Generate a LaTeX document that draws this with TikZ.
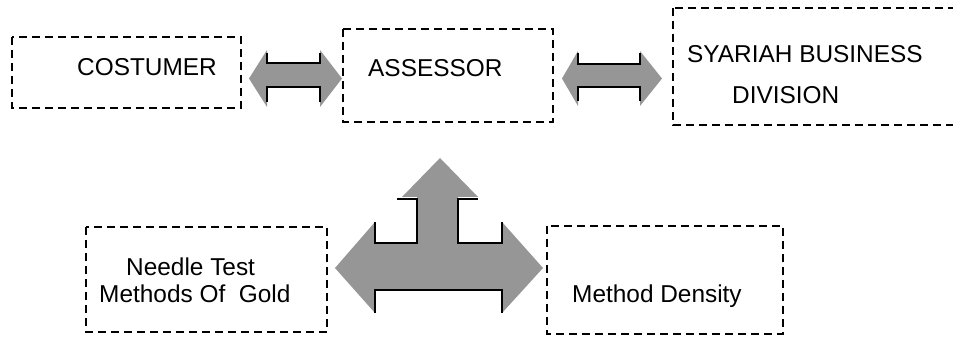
\documentclass[tikz,border=0pt]{standalone}
\usepackage{fontspec}
\setmainfont{Liberation Sans}
\definecolor{arrowgray}{RGB}{150,150,150}
\tikzset{
  box/.style={draw=black, line width=2pt, dash pattern=on 8pt off 5pt},
  lbl/.style={anchor=base west, inner sep=0pt, font=\fontsize{24.4}{29}\selectfont},
  blockarrow/.style={fill=arrowgray, draw=none},
  edge/.style={draw=black, line width=2pt, line cap=butt, line join=miter},
}
\begin{document}
\begin{tikzpicture}[x=1pt, y=-1pt]
\useasboundingbox (0,0) rectangle (953,339);
\begin{scope}
\clip (0,0) rectangle (953,339);
% boxes
\draw[box] (12,37) rectangle (241,108);
\draw[box] (343,29) rectangle (553,122);
\draw[box] (673,8) rectangle (990,125);
\draw[box] (86,227) rectangle (327,332);
\draw[box] (547,226) rectangle (783,334);
\end{scope}
% labels
\node[lbl] (cost) at (77,76) {COSTUMER};
\node[lbl] (ass) at (368,77) {ASSESSOR};
\node[lbl] (sy1) at (687,63) {SYARIAH BUSINESS};
\node[lbl] (sy2) at (732,104) {DIVISION};
\node[lbl] (nt1) at (126,275) {Needle Test};
\node[lbl] (nt2) at (99,302) {Methods Of\ \ Gold};
\node[lbl] (md) at (572,302) {Method Density};
% left double arrow
\fill[blockarrow] (249,78.5) -- (267,50) -- (267,63) -- (320,63) -- (320,50) -- (342,78.5)
  -- (320,107) -- (320,87) -- (267,87) -- (267,107) -- cycle;
\draw[edge] (267,53) -- (267,63) -- (320,63) -- (320,53);
\draw[edge] (267,102) -- (267,87) -- (320,87) -- (320,102);
% right double arrow
\fill[blockarrow] (562,78.5) -- (578,51) -- (578,64) -- (640,64) -- (640,51) -- (662,78.5)
  -- (640,106) -- (640,87) -- (578,87) -- (578,106) -- cycle;
\draw[edge] (578,53) -- (578,64) -- (640,64) -- (640,53);
\draw[edge] (578,101) -- (578,87) -- (640,87) -- (640,101);
% three-way arrow
\fill[blockarrow] (440,158) -- (478,197) -- (458,197) -- (458,243) -- (502,243) -- (502,222)
  -- (543,268) -- (502,313) -- (502,290) -- (375,290) -- (375,313) -- (335,268)
  -- (375,222) -- (375,243) -- (417,243) -- (417,197) -- (402,197) -- cycle;
\draw[edge] (397,199) -- (417,199) -- (417,243) -- (375,243) -- (375,222);
\draw[edge] (478,199) -- (458,199) -- (458,243) -- (502,243) -- (502,222);
\draw[edge] (375,313) -- (375,290) -- (502,290) -- (502,313);
\end{tikzpicture}
\end{document}
